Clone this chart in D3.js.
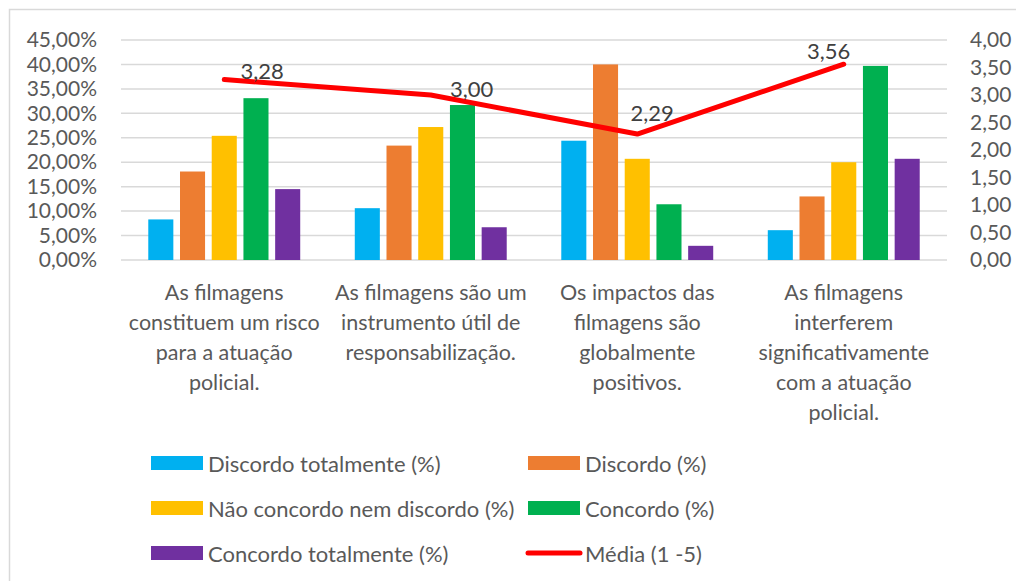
<!DOCTYPE html>
<html>
<head>
<meta charset="utf-8">
<script src="https://cdn.jsdelivr.net/npm/d3@7"></script>
<style>
  body { margin: 0; background: #fff; }
  text { font-family: Lato, "Open Sans", sans-serif; fill: #595959; }
</style>
</head>
<body>
<div id="chart"></div>
<script>
"use strict";

// categories (one entry per line of the wrapped label)
var categories = [
    ["As filmagens", "constituem um risco", "para a atuação", "policial."],
    ["As filmagens são um", "instrumento útil de", "responsabilização."],
    ["Os impactos das", "filmagens são", "globalmente", "positivos."],
    ["As filmagens", "interferem", "significativamente", "com a atuação", "policial."]
];
var seriesNames = [
    "Discordo totalmente (%)",
    "Discordo (%)",
    "Não concordo nem discordo (%)",
    "Concordo (%)",
    "Concordo totalmente (%)"
];
var seriesColors = ["#00B0F0", "#ED7D31", "#FFC000", "#00B050", "#7030A0"];

// percentages per category, one array per series
var discordoTotalmente  = [8.3, 10.6, 24.4, 6.1];
var discordo            = [18.1, 23.4, 40.0, 13.0];
var naoConcordo         = [25.4, 27.2, 20.7, 20.0];
var concordo            = [33.1, 31.7, 11.4, 39.7];
var concordoTotalmente  = [14.5, 6.7, 2.9, 20.7];

var media = [3.28, 3.00, 2.29, 3.56];
var mediaName = "Média (1 -5)";

var leftTicks = [0, 5, 10, 15, 20, 25, 30, 35, 40, 45];
var rightTicks = [0, 0.5, 1, 1.5, 2, 2.5, 3, 3.5, 4];

var series = [discordoTotalmente, discordo, naoConcordo, concordo, concordoTotalmente];

var width = 1016, height = 581;
var plot = { left: 121, right: 947, top: 40, bottom: 260 };

var svg = d3.select("#chart").append("svg")
    .attr("width", width)
    .attr("height", height);

// chart frame
svg.append("rect")
    .attr("x", 9.5).attr("y", 9.5)
    .attr("width", 1020).attr("height", 600)
    .attr("fill", "none")
    .attr("stroke", "#d9d9d9")
    .attr("stroke-width", 1.5);

var x = d3.scaleBand()
    .domain(d3.range(categories.length))
    .range([plot.left, plot.right]);

var xInner = d3.scaleBand()
    .domain(d3.range(series.length))
    .range([0, x.bandwidth()])
    .paddingInner(0.21)
    .paddingOuter(0.86);

var yLeft = d3.scaleLinear().domain([0, 45]).range([plot.bottom, plot.top]);
var yRight = d3.scaleLinear().domain([0, 4]).range([plot.bottom, plot.top]);

var fmt2 = function(v) { return v.toFixed(2).replace(".", ","); };

// gridlines
svg.append("g")
    .selectAll("line")
    .data(leftTicks)
    .enter().append("line")
    .attr("x1", plot.left).attr("x2", plot.right)
    .attr("y1", function(d) { return yLeft(d); })
    .attr("y2", function(d) { return yLeft(d); })
    .attr("stroke", "#d9d9d9")
    .attr("stroke-width", 1.5);

// left axis
var leftAxis = svg.append("g")
    .attr("transform", "translate(" + (plot.left - 24) + ",0)")
    .call(d3.axisLeft(yLeft).tickValues(leftTicks).tickSize(0).tickPadding(0)
        .tickFormat(function(d) { return fmt2(d) + "%"; }));
leftAxis.select(".domain").remove();
leftAxis.selectAll("text").attr("font-size", 21).attr("fill", "#595959")
    .style("font-family", "Lato, sans-serif");

// right axis
var rightAxis = svg.append("g")
    .attr("transform", "translate(" + (plot.right + 23) + ",0)")
    .call(d3.axisRight(yRight).tickValues(rightTicks).tickSize(0).tickPadding(0)
        .tickFormat(fmt2));
rightAxis.select(".domain").remove();
rightAxis.selectAll("text").attr("font-size", 21).attr("fill", "#595959")
    .style("font-family", "Lato, sans-serif");

// bars
var groups = svg.append("g").selectAll("g")
    .data(series)
    .enter().append("g")
    .attr("fill", function(d, i) { return seriesColors[i]; });

groups.each(function(values, si) {
    d3.select(this).selectAll("rect")
        .data(values)
        .enter().append("rect")
        .attr("x", function(d, ci) { return x(ci) + xInner(si); })
        .attr("width", xInner.bandwidth())
        .attr("y", function(d) { return yLeft(d); })
        .attr("height", function(d) { return plot.bottom - yLeft(d); });
});

// average line
var line = d3.line()
    .x(function(d, i) { return x(i) + x.bandwidth() / 2; })
    .y(function(d) { return yRight(d); });

svg.append("path")
    .datum(media)
    .attr("d", line)
    .attr("fill", "none")
    .attr("stroke", "#FF0000")
    .attr("stroke-width", 5)
    .attr("stroke-linecap", "round")
    .attr("stroke-linejoin", "round");

// data labels were nudged by hand in the original
var labelNudge = [[38, -9], [41, -7], [15, -22], [-15, -14]];
svg.append("g").selectAll("text")
    .data(media)
    .enter().append("text")
    .attr("x", function(d, i) { return x(i) + x.bandwidth() / 2 + labelNudge[i][0]; })
    .attr("y", function(d, i) { return yRight(d) + labelNudge[i][1]; })
    .attr("text-anchor", "middle")
    .attr("dominant-baseline", "central")
    .attr("font-size", 22)
    .style("fill", "#404040")
    .text(fmt2);

// category labels
var catLabels = svg.append("g").selectAll("text")
    .data(categories)
    .enter().append("text")
    .attr("text-anchor", "middle")
    .attr("font-size", 21.5)
    .attr("x", function(d, i) { return x(i) + x.bandwidth() / 2; });

catLabels.selectAll("tspan")
    .data(function(d) { return d; })
    .enter().append("tspan")
    .attr("x", function() { return d3.select(this.parentNode).attr("x"); })
    .attr("y", function(d, j) { return 292 + j * 30; })
    .attr("dominant-baseline", "central")
    .text(function(d) { return d; });

// legend
var legendItems = seriesNames.map(function(n, i) { return { name: n, color: seriesColors[i], type: "bar" }; });
legendItems.push({ name: mediaName, color: "#FF0000", type: "line" });

var legend = svg.append("g").selectAll("g")
    .data(legendItems)
    .enter().append("g")
    .attr("transform", function(d, i) {
        var col = i % 2, row = Math.floor(i / 2);
        return "translate(" + (col ? 528 : 151) + "," + (463 + row * 45) + ")";
    });

legend.each(function(d) {
    var g = d3.select(this);
    if (d.type === "bar") {
        g.append("rect")
            .attr("x", 0).attr("y", -7)
            .attr("width", 52).attr("height", 14)
            .attr("fill", d.color);
    } else {
        g.append("line")
            .attr("x1", 0).attr("x2", 52)
            .attr("y1", 0).attr("y2", 0)
            .attr("stroke", d.color)
            .attr("stroke-width", 5)
            .attr("stroke-linecap", "round");
    }
    g.append("text")
        .attr("x", 57)
        .attr("y", 0)
        .attr("dominant-baseline", "central")
        .attr("font-size", 22)
        .text(d.name);
});
</script>
</body>
</html>
